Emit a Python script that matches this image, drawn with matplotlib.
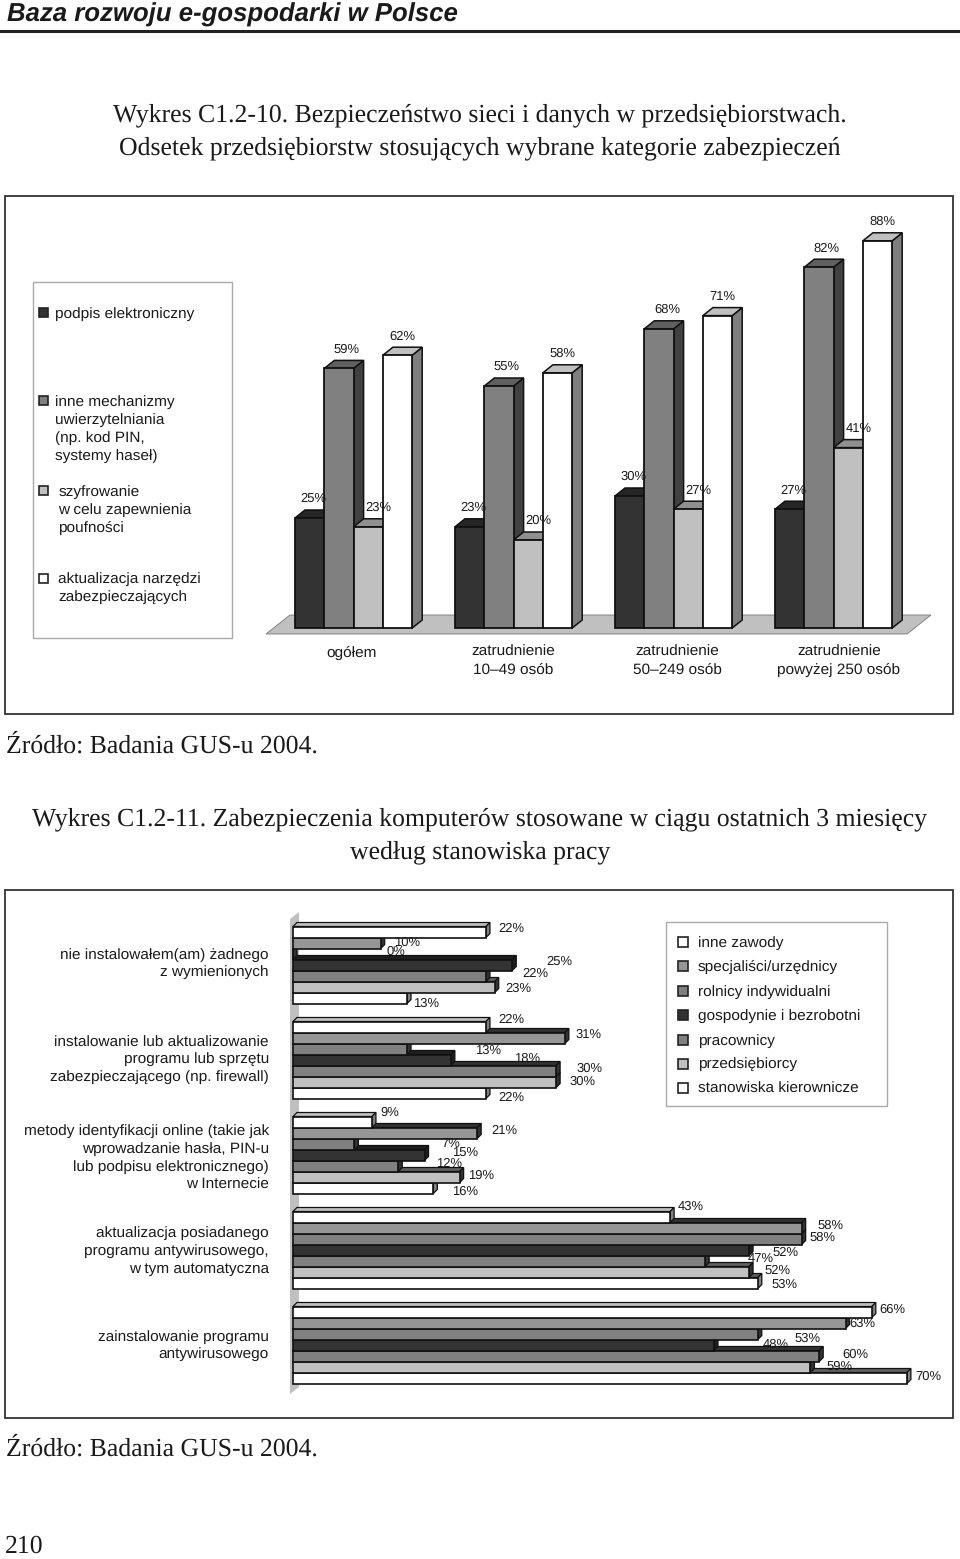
import matplotlib
matplotlib.use('Agg')
import matplotlib.pyplot as plt
from matplotlib.patches import Polygon, Rectangle

plt.rcParams['text.hinting'] = 'no_hinting'

W, H = 960, 1559

# wykres 1
kategorie1 = ['ogółem', 'zatrudnienie\n10–49 osób', 'zatrudnienie\n50–249 osób', 'zatrudnienie\npowyżej 250 osób']
podpis = [25, 23, 30, 27]
inne_mech = [59, 55, 68, 82]
szyfrowanie = [23, 20, 27, 41]
aktualizacja = [62, 58, 71, 88]
legenda1 = ['podpis elektroniczny',
            'inne mechanizmy\nuwierzytelniania\n(np. kod PIN,\nsystemy haseł)',
            'szyfrowanie\nw celu zapewnienia\npoufności',
            'aktualizacja narzędzi\nzabezpieczających']

# wykres 2 (kolejnosc wierszy od gory: inne zawody ... stanowiska kierownicze)
kategorie2 = ['nie instalowałem(am) żadnego\nz wymienionych',
              'instalowanie lub aktualizowanie\nprogramu lub sprzętu\nzabezpieczającego (np. firewall)',
              'metody identyfikacji online (takie jak\nwprowadzanie hasła, PIN-u\nlub podpisu elektronicznego)\nw Internecie',
              'aktualizacja posiadanego\nprogramu antywirusowego,\nw tym automatyczna',
              'zainstalowanie programu\nantywirusowego']
nie_instalowal = [22, 10, 0, 25, 22, 23, 13]
instalowanie = [22, 31, 13, 18, 30, 30, 22]
metody = [9, 21, 7, 15, 12, 19, 16]
aktualizacja_prog = [43, 58, 58, 52, 47, 52, 53]
zainstalowanie = [66, 63, 53, 48, 60, 59, 70]
legenda2 = ['inne zawody', 'specjaliści/urzędnicy', 'rolnicy indywidualni',
            'gospodynie i bezrobotni', 'pracownicy', 'przedsiębiorcy', 'stanowiska kierownicze']

SANS = 'Liberation Sans'
SERIF = 'Liberation Serif'
INK = '#1a1a1a'
FS = 11.1     # opisy
FS_L = 9.4    # etykiety wartosci
FS_T = 18.5   # tytuly


def ax_px(fig, x0, y0, x1, y1):
    # osie podane w pikselach obrazka
    return fig.add_axes([x0 / W, 1 - y1 / H, (x1 - x0) / W, (y1 - y0) / H])


fig = plt.figure(figsize=(W / 100, H / 100), dpi=100, facecolor='white')
bg = fig.add_axes([0, 0, 1, 1])
bg.set_xlim(0, W)
bg.set_ylim(H, 0)
bg.axis('off')

# naglowek
bg.text(7, 15, 'Baza rozwoju e-gospodarki w Polsce', family=SANS, style='italic', weight='bold',
        fontsize=18.5, color=INK, va='center')
bg.plot([0, 960], [31, 31], color='#222222', lw=2.2)
bg.text(480, 115, 'Wykres C1.2-10. Bezpieczeństwo sieci i danych w przedsiębiorstwach.', family=SERIF,
        fontsize=FS_T, color=INK, ha='center', va='center')
bg.text(480, 148, 'Odsetek przedsiębiorstw stosujących wybrane kategorie zabezpieczeń', family=SERIF,
        fontsize=FS_T, color=INK, ha='center', va='center')
bg.text(6, 746, 'Źródło: Badania GUS-u 2004.', family=SERIF, fontsize=FS_T, color=INK, va='center')
bg.text(480, 819, 'Wykres C1.2-11. Zabezpieczenia komputerów stosowane w ciągu ostatnich 3 miesięcy',
        family=SERIF, fontsize=FS_T, color=INK, ha='center', va='center')
bg.text(480, 852, 'według stanowiska pracy', family=SERIF, fontsize=FS_T, color=INK, ha='center', va='center')
bg.text(6, 1449, 'Źródło: Badania GUS-u 2004.', family=SERIF, fontsize=FS_T, color=INK, va='center')
bg.text(5, 1546, '210', family=SERIF, fontsize=FS_T, color=INK, va='center')

# ramki
bg.add_patch(Rectangle((5, 196), 948, 518, fc='white', ec='#333333', lw=1.3))
bg.add_patch(Rectangle((33, 282), 199, 356, fc='white', ec='#aaaaaa', lw=1))
bg.add_patch(Rectangle((5, 890), 948, 528, fc='white', ec='#333333', lw=1.3))
bg.add_patch(Rectangle((666, 922), 221, 184, fc='white', ec='#aaaaaa', lw=1))

# legenda 1
kolory_leg1 = ['#333333', '#808080', '#c0c0c0', '#ffffff']
poz_leg1 = [(313, 314), (401, 429), (491, 510), (579, 589)]
for kol, t, (ym, yt) in zip(kolory_leg1, legenda1, poz_leg1):
    bg.add_patch(Rectangle((39, ym - 5), 9, 9, fc=kol, ec='#222222', lw=1.2))
    bg.text(55 if kol in ('#333333', '#808080') else 58.5, yt, t, family=SANS, fontsize=FS, color=INK,
            va='center', linespacing=1.34)

# legenda 2
kolory2 = ['#ffffff', '#969696', '#808080', '#333333', '#808080', '#c0c0c0', '#ffffff']
for i, (kol, t) in enumerate(zip(kolory2, legenda2)):
    y = 942 + i * 24.4
    bg.add_patch(Rectangle((678, y - 5), 10, 10, fc=kol, ec='#222222', lw=1.2))
    bg.text(698, y + 1, t, family=SANS, fontsize=FS, color=INK, va='center')

# etykiety kategorii wykresu 2
srodki = [963.5, 1060.5, 1158, 1251, 1345.5]
for t, y in zip(kategorie2, srodki):
    bg.text(269, y, t, family=SANS, fontsize=FS, color=INK, ha='right', va='center', linespacing=1.34)

# --- wykres 1: slupki 3D ---
PX_X = 160.0   # pikseli na grupe
PX_Y = 4.4     # pikseli na 1%
ax1 = ax_px(fig, 262, 220, 936, 640)
ax1.set_xlim((262 - 295) / PX_X, (936 - 295) / PX_X)
ax1.set_ylim((628 - 640) / PX_Y, (628 - 220) / PX_Y)
ax1.axis('off')
ax1.patch.set_alpha(0)

gl_x, gl_y = 10 / PX_X, 8 / PX_Y
bw = 29.3 / PX_X

# podloga
ax1.add_patch(Polygon([(-29 / PX_X, -6 / PX_Y), (612 / PX_X, -6 / PX_Y), (636 / PX_X, 13 / PX_Y), (-5 / PX_X, 13 / PX_Y)],
                      closed=True, fc='#c0c0c0', ec='#777777', lw=0.6))

serie1 = [podpis, inne_mech, szyfrowanie, aktualizacja]
kol_front = ['#333333', '#808080', '#c0c0c0', '#ffffff']
kol_top = ['#262626', '#606060', '#909090', '#c0c0c0']
kol_bok = ['#1f1f1f', '#404040', '#808080', '#808080']
lab_dx = [4, 8, 10, 5]
EDGE = '#111111'
for g in range(4):
    for s, vals in enumerate(serie1):
        v = vals[g]
        xl = g + s * bw
        xr = xl + bw
        ax1.add_patch(Polygon([(xr, 0), (xr + gl_x, gl_y), (xr + gl_x, v + gl_y), (xr, v)], closed=True,
                              fc=kol_bok[s], ec=EDGE, lw=1.1, zorder=3 + g * 4 + s))
        ax1.add_patch(Polygon([(xl, v), (xr, v), (xr + gl_x, v + gl_y), (xl + gl_x, v + gl_y)], closed=True,
                              fc=kol_top[s], ec=EDGE, lw=1.1, zorder=3 + g * 4 + s))
        ax1.bar(xl, v, width=bw, align='edge', color=kol_front[s], edgecolor=EDGE, lw=1.3, zorder=3 + g * 4 + s)
        ax1.annotate('%d%%' % v, (xl + bw / 2, v), xytext=(lab_dx[s], 19), textcoords='offset pixels',
                     family=SANS, fontsize=FS_L, color=INK, ha='center', va='center', zorder=40)

for g, t in enumerate(kategorie1):
    x_px = [352, 513, 677, 839][g]
    bg.text(x_px, 653 if g == 0 else 661, t, family=SANS, fontsize=FS, color=INK, ha='center', va='center',
            linespacing=1.34)

# --- wykres 2: poziome slupki ---
PX_V = 8.77
ax2 = ax_px(fig, 285, 905, 945, 1400)
ax2.set_xlim((285 - 293) / PX_V, (945 - 293) / PX_V)
ax2.set_ylim(1400, 905)      # os pionowa w pikselach obrazka
ax2.axis('off')
ax2.patch.set_alpha(0)

# sciana
ax2.add_patch(Polygon([(-3 / PX_V, 919), (6 / PX_V, 912), (6 / PX_V, 1387), (-3 / PX_V, 1394)], closed=True,
                      fc='#c0c0c0', ec='none'))

serie2 = [nie_instalowal, instalowanie, metody, aktualizacja_prog, zainstalowanie]
front2 = ['#ffffff', '#969696', '#808080', '#333333', '#808080', '#c0c0c0', '#ffffff']
top2 = ['#c0c0c0', '#333333', '#333333', '#1f1f1f', '#333333', '#606060', '#606060']
bok2 = ['#808080', '#333333', '#333333', '#1f1f1f', '#333333', '#333333', '#808080']
starty = [926.5, 1021.5, 1116.5, 1211.5, 1306.5]
h = 11.0
d_x, d_y = 4 / PX_V, 4.0

# przesuniecia etykiet w pikselach
off_x = [[25, 26, 103, 47, 49, 24, 19], [25, 24, 81, 76, 33, 26, 25], [18, 27, 96, 40, 51, 21, 32],
         [21, 29, 21, 36, 56, 28, 27], [21, 17, 50, 62, 36, 29, 21]]
off_y = [[-4, -1, -3, -4, -3, 1, 5], [-8, -4, 1, -2, -3, -1, 4], [-10, -3, -1, -3, -3, -2, 3],
         [-11, -3, -2, 2, -3, -2, 1], [-3, 0, 4, -1, -2, -1, -2]]

for g, vals in enumerate(serie2):
    for k in range(6, -1, -1):  # od dolu, wyzszy slupek przykrywa nizszy
        v = vals[k]
        y = starty[g] + k * h
        z = 3 + g + (7 - k) / 10
        ax2.add_patch(Polygon([(0, y), (v, y), (v + d_x, y - d_y), (d_x, y - d_y)], closed=True,
                              fc=top2[k], ec=EDGE, lw=0.9, zorder=z))
        ax2.add_patch(Polygon([(v, y), (v + d_x, y - d_y), (v + d_x, y + h - d_y), (v, y + h)], closed=True,
                              fc=bok2[k], ec=EDGE, lw=0.9, zorder=z))
        ax2.barh(y, v, height=h, align='edge', color=front2[k], edgecolor=EDGE, lw=1.2, zorder=z)
        ax2.annotate('%d%%' % v, (v, y + h / 2), xytext=(off_x[g][k], -off_y[g][k] - 1), textcoords='offset pixels',
                     family=SANS, fontsize=FS_L, color=INK, ha='center', va='center', zorder=40)

fig.savefig('out.png', dpi=100, facecolor='white')
